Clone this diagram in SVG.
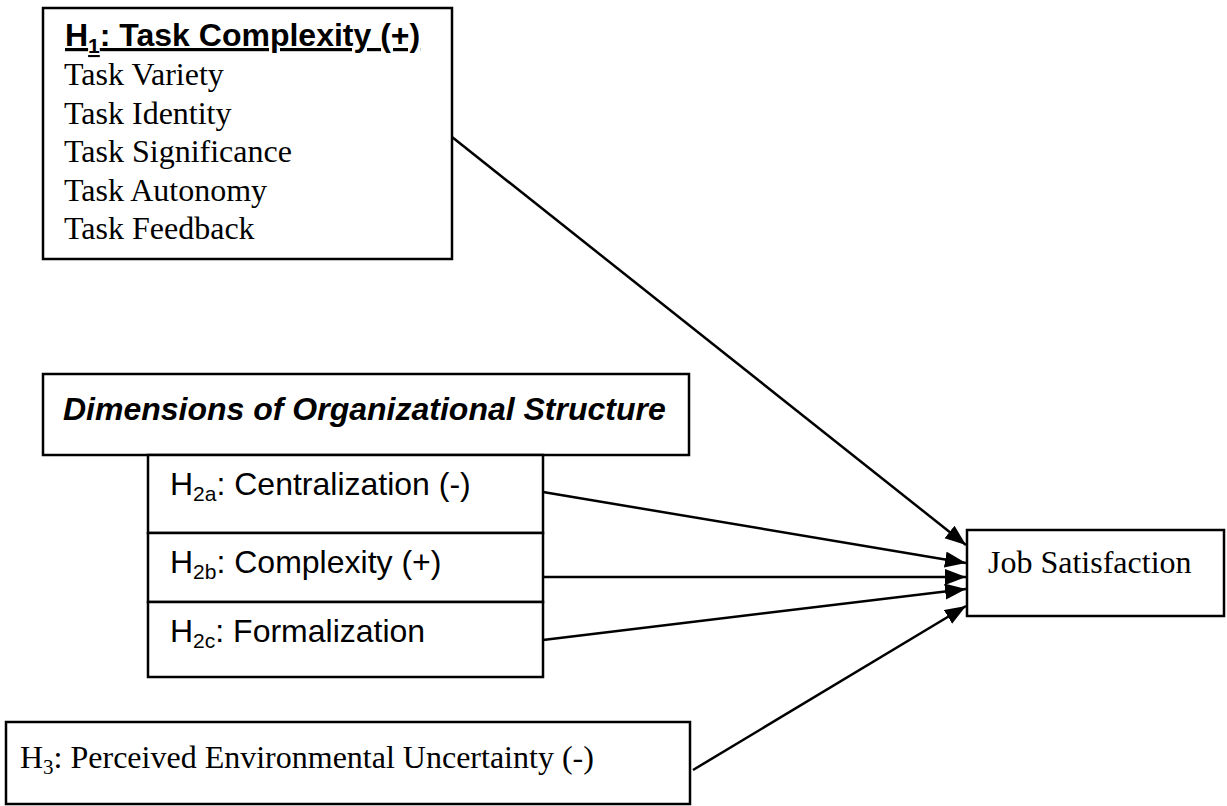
<svg xmlns="http://www.w3.org/2000/svg" width="1227" height="806" viewBox="0 0 1227 806">
<defs>
<style>
.box{fill:#fff;stroke:#000;stroke-width:2.5}
.ln{stroke:#000;stroke-width:2.5;fill:none}
.ar{font-family:"Liberation Sans",Arial,sans-serif;font-size:32px;fill:#000}
.tm{font-family:"Liberation Serif","Times New Roman",serif;font-size:32px;fill:#000}
.sub{font-size:21px}
</style>
<marker id="ah" markerUnits="userSpaceOnUse" markerWidth="24" markerHeight="18" refX="21" refY="8" orient="auto">
<path d="M0,0 L21,8 L0,16 z" fill="#000"/>
</marker>
</defs>
<g id="connectors">
<line class="ln" x1="452" y1="137" x2="966" y2="545" marker-end="url(#ah)"/>
<line class="ln" x1="543" y1="492" x2="966" y2="563" marker-end="url(#ah)"/>
<line class="ln" x1="543" y1="577" x2="966" y2="577" marker-end="url(#ah)"/>
<line class="ln" x1="543" y1="640" x2="966" y2="589" marker-end="url(#ah)"/>
<line class="ln" x1="693" y1="770" x2="966" y2="606" marker-end="url(#ah)"/>
</g>
<g id="task-complexity">
<rect class="box" x="43" y="8" width="409" height="251"/>
<text class="ar" x="65" y="46" font-weight="bold" text-decoration="underline" font-size="31">H<tspan class="sub" dy="7">1</tspan><tspan dy="-7">: Task Complexity (+)</tspan></text>
<text class="tm" x="64" y="85">Task Variety</text>
<text class="tm" x="64" y="124">Task Identity</text>
<text class="tm" x="64" y="162">Task Significance</text>
<text class="tm" x="64" y="201">Task Autonomy</text>
<text class="tm" x="64" y="239">Task Feedback</text>
</g>
<g id="org-structure">
<rect class="box" x="43" y="374" width="646" height="81"/>
<text class="ar" x="63" y="420" font-weight="bold" font-style="italic" font-size="33">Dimensions of Organizational Structure</text>
</g>
<g id="h2a">
<rect class="box" x="148" y="455" width="395" height="78"/>
<text class="ar" x="170" y="495">H<tspan class="sub" dy="6">2a</tspan><tspan dy="-6">: Centralization (-)</tspan></text>
</g>
<g id="h2b">
<rect class="box" x="148" y="533" width="395" height="69"/>
<text class="ar" x="170" y="573">H<tspan class="sub" dy="6">2b</tspan><tspan dy="-6">: Complexity (+)</tspan></text>
</g>
<g id="h2c">
<rect class="box" x="148" y="602" width="395" height="75"/>
<text class="ar" x="170" y="642">H<tspan class="sub" dy="6">2c</tspan><tspan dy="-6">: Formalization</tspan></text>
</g>
<g id="job-satisfaction">
<rect class="box" x="967" y="530" width="257" height="86"/>
<text class="tm" x="988" y="573">Job Satisfaction</text>
</g>
<g id="h3">
<rect class="box" x="6" y="722" width="684" height="82"/>
<text class="tm" x="20" y="768">H<tspan class="sub" dy="6">3</tspan><tspan dy="-6">: Perceived Environmental Uncertainty (-)</tspan></text>
</g>
</svg>
